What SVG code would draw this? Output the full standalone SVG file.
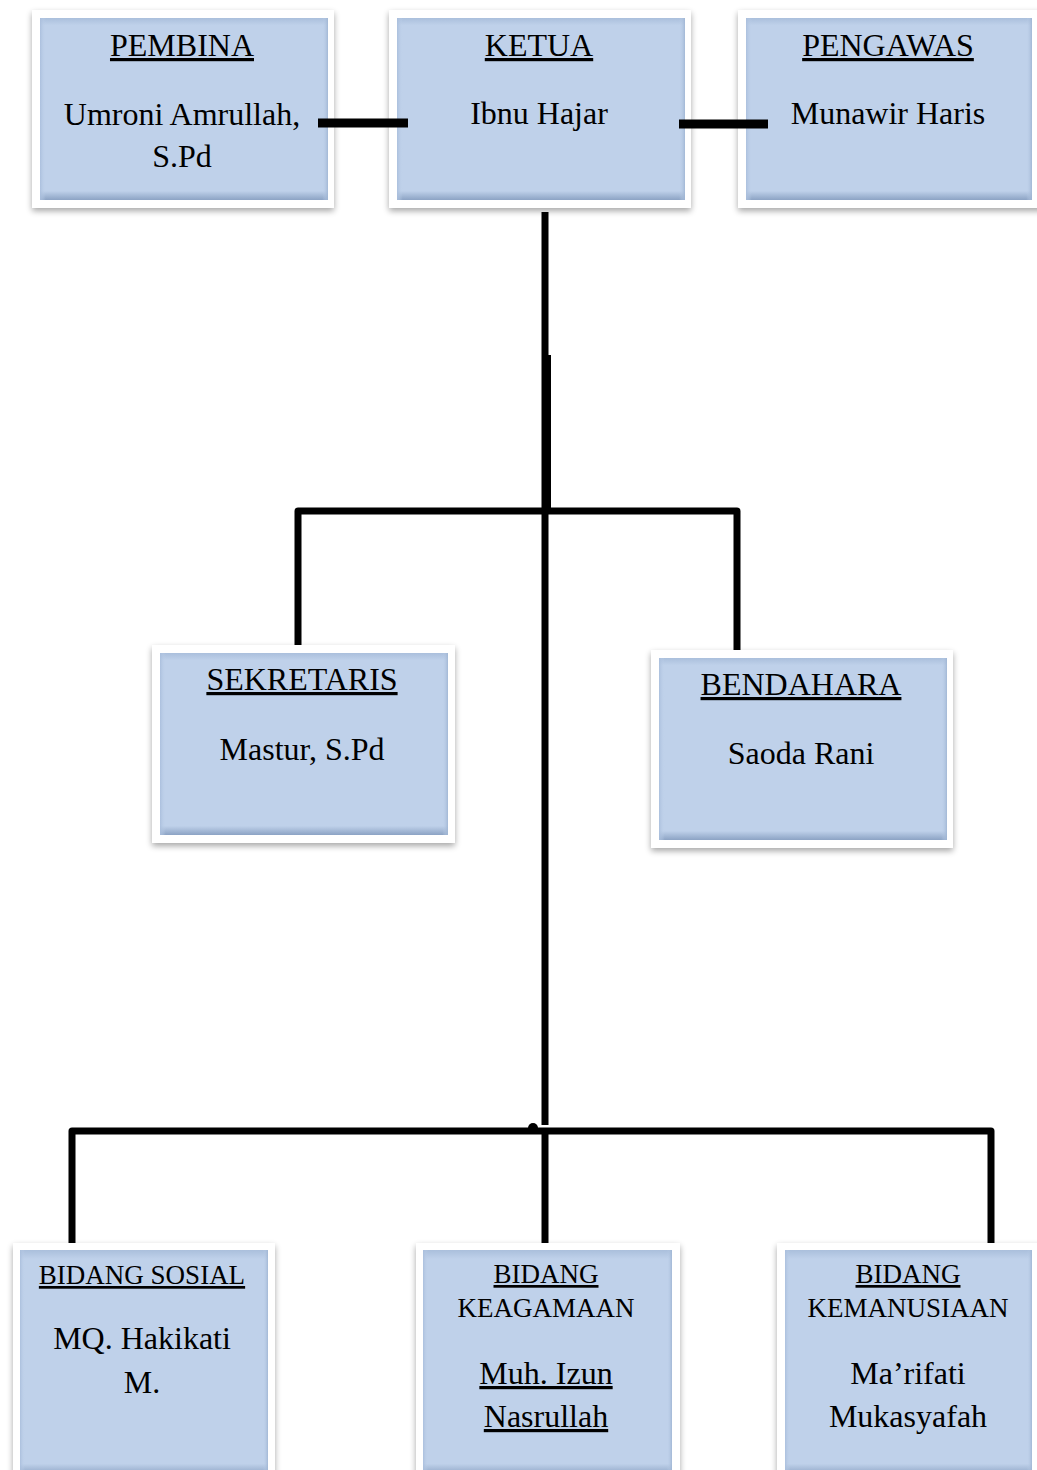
<svg xmlns="http://www.w3.org/2000/svg" width="1037" height="1470" viewBox="0 0 1037 1470">
<defs>
<filter id="sh" x="-10%" y="-10%" width="120%" height="125%">
<feGaussianBlur in="SourceAlpha" stdDeviation="3"/>
<feOffset dx="0" dy="3" result="b"/>
<feComponentTransfer><feFuncA type="linear" slope="0.35"/></feComponentTransfer>
<feMerge><feMergeNode/><feMergeNode in="SourceGraphic"/></feMerge>
</filter>
<linearGradient id="vb" x1="0" y1="0" x2="0" y2="1">
<stop offset="0" stop-color="#aabfdc"/>
<stop offset="0.04" stop-color="#bfd1ea"/>
<stop offset="0.95" stop-color="#bfd1ea"/>
<stop offset="1" stop-color="#8ca3c4"/>
</linearGradient>
<linearGradient id="hb" x1="0" y1="0" x2="1" y2="0">
<stop offset="0" stop-color="#a9bedc" stop-opacity="0.9"/>
<stop offset="0.02" stop-color="#bfd1ea" stop-opacity="0"/>
<stop offset="0.98" stop-color="#bfd1ea" stop-opacity="0"/>
<stop offset="1" stop-color="#9fb5d3" stop-opacity="0.9"/>
</linearGradient>
</defs>
<style>
.frame{fill:#ffffff;filter:url(#sh);}
.box{fill:url(#vb);}
.edge{fill:url(#hb);}
text{font-family:"Liberation Serif","Times New Roman",serif;fill:#000;text-anchor:middle;}
.t{font-size:32px;}
.s{font-size:27px;}
.u{text-decoration:underline;}
.c{stroke:#000;fill:none;stroke-linecap:butt;}
</style>
<rect width="1037" height="1470" fill="#ffffff"/>

<g id="pembina">
<rect class="frame" x="32" y="10" width="302" height="198"/>
<rect class="box" x="40" y="18" width="288" height="182"/>
<rect class="edge" x="40" y="18" width="288" height="182"/>
<text class="t u" x="182" y="56">PEMBINA</text>
<text class="t" x="182" y="125">Umroni Amrullah,</text>
<text class="t" x="182" y="167">S.Pd</text>
</g>

<g id="ketua">
<rect class="frame" x="389" y="10" width="302" height="198"/>
<rect class="box" x="397" y="18" width="288" height="182"/>
<rect class="edge" x="397" y="18" width="288" height="182"/>
<text class="t u" x="539" y="56">KETUA</text>
<text class="t" x="539" y="124">Ibnu Hajar</text>
</g>

<g id="pengawas">
<rect class="frame" x="738" y="10" width="310" height="198"/>
<rect class="box" x="746" y="18" width="286" height="182"/>
<rect class="edge" x="746" y="18" width="286" height="182"/>
<text class="t u" x="888" y="56">PENGAWAS</text>
<text class="t" x="888" y="124">Munawir Haris</text>
</g>

<g id="sekretaris">
<rect class="frame" x="152" y="645" width="303" height="198"/>
<rect class="box" x="160" y="653" width="288" height="182"/>
<rect class="edge" x="160" y="653" width="288" height="182"/>
<text class="t u" x="302" y="690">SEKRETARIS</text>
<text class="t" x="302" y="760">Mastur, S.Pd</text>
</g>

<g id="bendahara">
<rect class="frame" x="651" y="650" width="302" height="198"/>
<rect class="box" x="659" y="658" width="288" height="182"/>
<rect class="edge" x="659" y="658" width="288" height="182"/>
<text class="t u" x="801" y="695">BENDAHARA</text>
<text class="t" x="801" y="764">Saoda Rani</text>
</g>

<g id="bidang-sosial">
<rect class="frame" x="13" y="1243" width="262" height="240"/>
<rect class="box" x="20" y="1250" width="248" height="225"/>
<rect class="edge" x="20" y="1250" width="248" height="225"/>
<text class="s u" x="142" y="1284">BIDANG SOSIAL</text>
<text class="t" x="142" y="1349">MQ. Hakikati</text>
<text class="t" x="142" y="1393">M.</text>
</g>

<g id="bidang-keagamaan">
<rect class="frame" x="416" y="1243" width="264" height="240"/>
<rect class="box" x="423" y="1250" width="249" height="225"/>
<rect class="edge" x="423" y="1250" width="249" height="225"/>
<text class="s u" x="546" y="1283">BIDANG</text>
<text class="s" x="546" y="1317">KEAGAMAAN</text>
<text class="t u" x="546" y="1384">Muh. Izun</text>
<text class="t u" x="546" y="1427">Nasrullah</text>
</g>

<g id="bidang-kemanusiaan">
<rect class="frame" x="777" y="1243" width="270" height="240"/>
<rect class="box" x="785" y="1250" width="247" height="225"/>
<rect class="edge" x="785" y="1250" width="247" height="225"/>
<text class="s u" x="908" y="1283">BIDANG</text>
<text class="s" x="908" y="1317">KEMANUSIAAN</text>
<text class="t" x="908" y="1384">Ma’rifati</text>
<text class="t" x="908" y="1427">Mukasyafah</text>
</g>

<g id="connectors">
<line class="c" x1="318" y1="123" x2="408" y2="123" stroke-width="9"/>
<line class="c" x1="679" y1="124" x2="768" y2="124" stroke-width="9"/>
<line class="c" x1="545" y1="212" x2="545" y2="1125" stroke-width="7"/>
<line class="c" x1="548" y1="355" x2="548" y2="510" stroke-width="6"/>
<polyline class="c" points="298,645 298,511 737,511 737,650" stroke-width="7" stroke-linejoin="round"/>
<polyline class="c" points="72,1243 72,1131 991,1131 991,1243" stroke-width="7" stroke-linejoin="round"/>
<line class="c" x1="545" y1="1131" x2="545" y2="1243" stroke-width="7"/>
<circle cx="533" cy="1128" r="5" fill="#000"/>
</g>
</svg>
